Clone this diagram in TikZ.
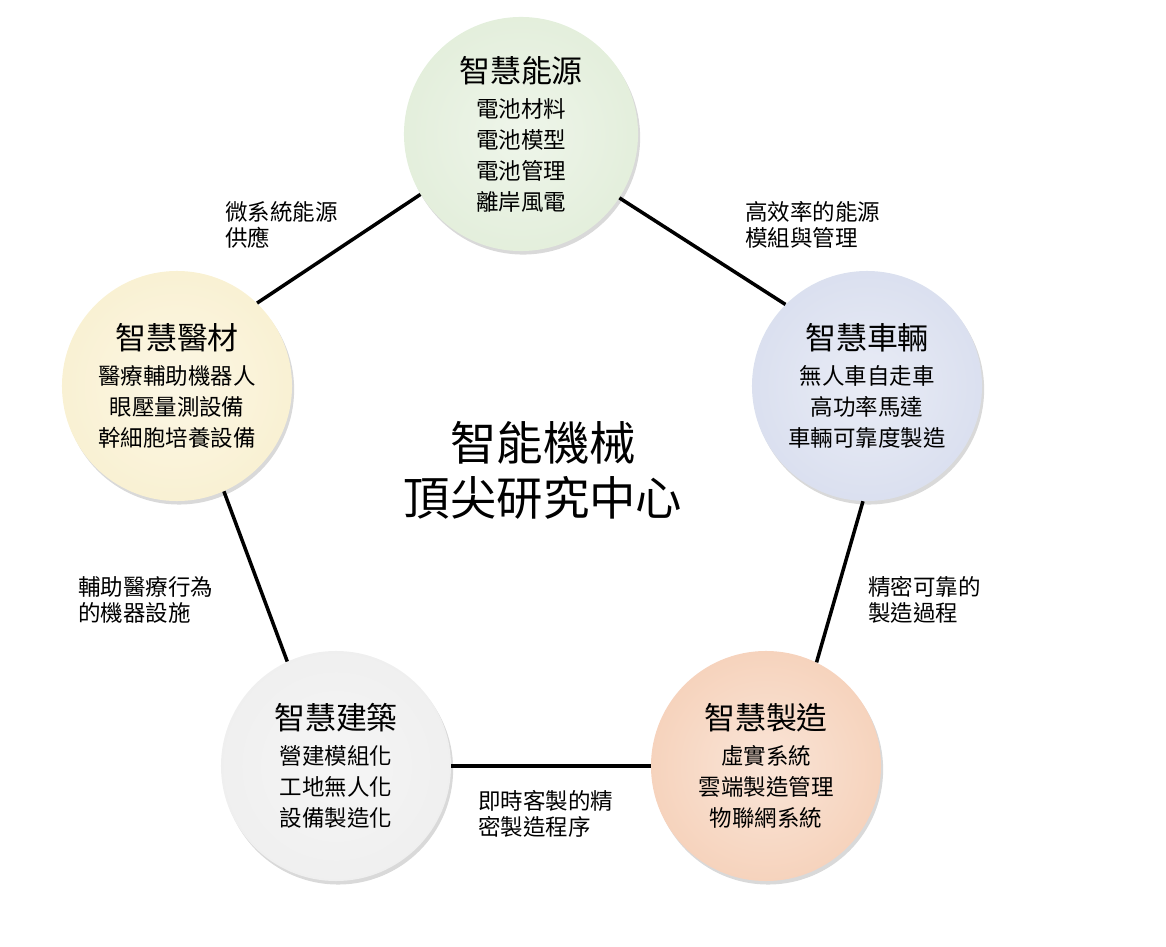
\documentclass[tikz,border=0pt]{standalone}
\usepackage{fontspec}
\setmainfont{Noto Sans CJK TC}
\usepackage{tikz}
\usetikzlibrary{shadows,positioning}
\definecolor{energy}{RGB}{218,233,208}
\definecolor{vehicle}{RGB}{206,213,234}
\definecolor{manuf}{RGB}{243,196,166}
\definecolor{build}{RGB}{234,234,234}
\definecolor{medic}{RGB}{247,236,196}
\newcommand{\orbshade}[1]{\pgfdeclareradialshading{orb#1}{\pgfpoint{0bp}{0bp}}{color(0bp)=(#1!45!white); color(34bp)=(#1!85!white); color(46bp)=(#1); color(50bp)=(#1!88!black)}}
\orbshade{energy}
\orbshade{vehicle}
\orbshade{manuf}
\orbshade{build}
\orbshade{medic}

\begin{document}
\begin{tikzpicture}[x=0.025cm, y=-0.025cm,
    orb/.style={circle, minimum size=5.75cm, inner sep=0pt, align=center, shading=orb#1,
        font=\fontsize{16}{22}\selectfont,
        drop shadow={shadow xshift=1.5pt, shadow yshift=-2.5pt, opacity=0.3}},
    note/.style={anchor=west, align=left, inner sep=0pt, font=\fontsize{16}{18.5}\selectfont},
    link/.style={line width=2.5pt, black}
]
\useasboundingbox (0,0) rectangle (1166,947);

% Research areas
\node[orb=energy, minimum size=5.85cm] (energy) at (521,134)
    {{\fontsize{22}{26}\selectfont 智慧能源}\\[3pt]電池材料\\電池模型\\電池管理\\離岸風電};
\node[orb=vehicle] (vehicle) at (867,386)
    {{\fontsize{22}{26}\selectfont 智慧車輛}\\[3pt]無人車自走車\\高功率馬達\\車輛可靠度製造};
\node[orb=manuf] (manuf) at (766,766)
    {{\fontsize{22}{26}\selectfont 智慧製造}\\[3pt]虛實系統\\雲端製造管理\\物聯網系統};
\node[orb=build] (build) at (336,766)
    {{\fontsize{22}{26}\selectfont 智慧建築}\\[3pt]營建模組化\\工地無人化\\設備製造化};
\node[orb=medic] (medic) at (177,386)
    {{\fontsize{22}{26}\selectfont 智慧醫材}\\[3pt]醫療輔助機器人\\眼壓量測設備\\幹細胞培養設備};

% Center title
\node[align=center, font=\fontsize{33}{39}\selectfont] (hub) at (543,470) {智能機械\\頂尖研究中心};

% Links
\draw[link] (medic.46) -- (energy.211);
\draw[link] (energy.327) -- (vehicle.135);
\draw[link] (vehicle.268) -- (manuf.64);
\draw[link] (manuf.180) -- (build.0);
\draw[link] (build.115) -- (medic.294);

% Link labels
\node[note] (supply) at (225,225) {微系統能源\\供應};
\node[note] (module) at (745,225) {高效率的能源\\模組與管理};
\node[note] (process) at (868,600) {精密可靠的\\製造過程};
\node[note] (custom) at (478,814) {即時客製的精\\密製造程序};
\node[note] (assist) at (78,600) {輔助醫療行為\\的機器設施};

\end{tikzpicture}
\end{document}
